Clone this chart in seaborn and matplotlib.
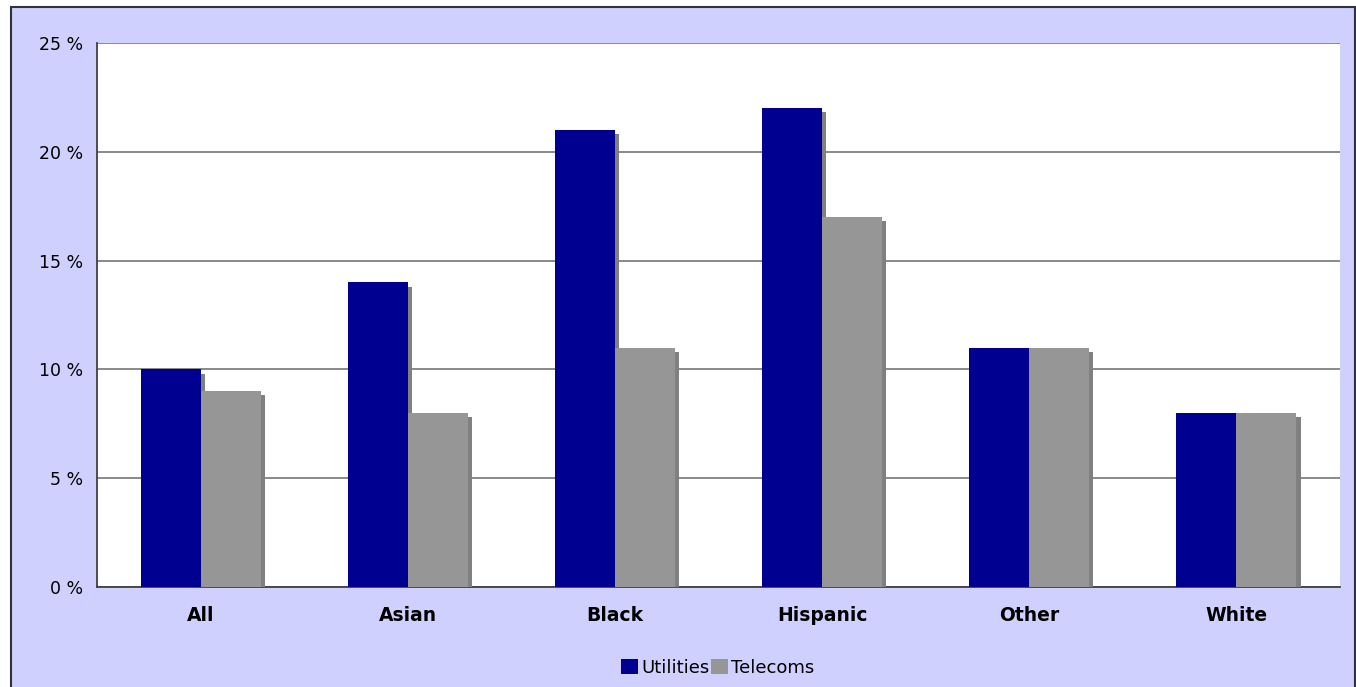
import numpy as np
import pandas as pd
import matplotlib.pyplot as plt
import matplotlib.patheffects as pe
from matplotlib.patches import Rectangle
from matplotlib.ticker import FuncFormatter, FixedLocator
import seaborn as sns

# data
groups = ["All", "Asian", "Black", "Hispanic", "Other", "White"]
utilities = [10, 14, 21, 22, 11, 8]
telecoms = [9, 8, 11, 17, 11, 8]

df = pd.DataFrame({
    "group": groups * 2,
    "value": utilities + telecoms,
    "series": ["Utilities"] * len(groups) + ["Telecoms"] * len(groups),
})

sns.set_style("white")
plt.rcParams["font.family"] = ["DejaVu Sans"]
plt.rcParams["text.color"] = "black"
plt.rcParams["xtick.color"] = "black"
plt.rcParams["ytick.color"] = "black"

lav = "#D0D0FF"
fig = plt.figure(figsize=(13.56, 6.87), dpi=100)
fig.patch.set_facecolor("white")
fig.patches.append(Rectangle((11 / 1356, -0.01), 1344 / 1356, 1 - 7 / 687 + 0.01,
                             transform=fig.transFigure, facecolor=lav,
                             edgecolor="#303040", linewidth=1.5, zorder=-10))

ax = fig.add_axes([97 / 1356, 1 - 587 / 687, 1243 / 1356, 544 / 687])
ax.set_facecolor("white")

sns.barplot(data=df, x="group", y="value", hue="series",
            palette={"Utilities": "#000090", "Telecoms": "#969696"},
            width=0.58, gap=0, saturation=1, errorbar=None, ax=ax, zorder=3)

# drop shadow like the old excel 3d-ish bars
shadow = [pe.SimplePatchShadow(offset=(3.0, -3.0), shadow_rgbFace="#808080", alpha=1.0),
          pe.Normal()]
for p in ax.patches:
    p.set_path_effects(shadow)
    p.set_linewidth(0)

ax.set_ylim(0, 25)
ax.set_xlim(-0.5, len(groups) - 0.5)
ax.set_yticks(np.arange(0, 26, 5))
ax.yaxis.set_major_formatter(FuncFormatter(lambda v, _: f"{int(v)} %"))
ax.grid(axis="y", color="#808080", linewidth=1.3, zorder=0)
ax.set_axisbelow(True)

for s in ["top", "right"]:
    ax.spines[s].set_visible(False)
for s in ["left", "bottom"]:
    ax.spines[s].set_color("#404040")
    ax.spines[s].set_linewidth(1.3)

ax.tick_params(axis="y", direction="out", length=6, width=1.2, color="#404040",
               labelcolor="black", labelsize=12.5, pad=4)
ax.tick_params(axis="x", which="major", length=0, labelcolor="black", labelsize=13.5, pad=14)
ax.xaxis.set_minor_locator(FixedLocator(np.arange(-0.5, len(groups), 1)))
ax.tick_params(axis="x", which="minor", direction="out", length=5, width=1.2, color="#404040")
for lbl in ax.get_xticklabels():
    lbl.set_fontweight("bold")
ax.set_xlabel("")
ax.set_ylabel("")

handles, labels = ax.get_legend_handles_labels()
leg = ax.legend(handles, labels, loc="center", bbox_to_anchor=(718 / 1356, 1 - 668 / 687),
                bbox_transform=fig.transFigure, ncol=2, frameon=False, fontsize=13,
                handlelength=0.9, handleheight=0.9, handletextpad=0.2, columnspacing=0.1)
for h in leg.legend_handles:
    h.set_path_effects([])

fig.savefig("out.png", dpi=100, facecolor=fig.get_facecolor())
